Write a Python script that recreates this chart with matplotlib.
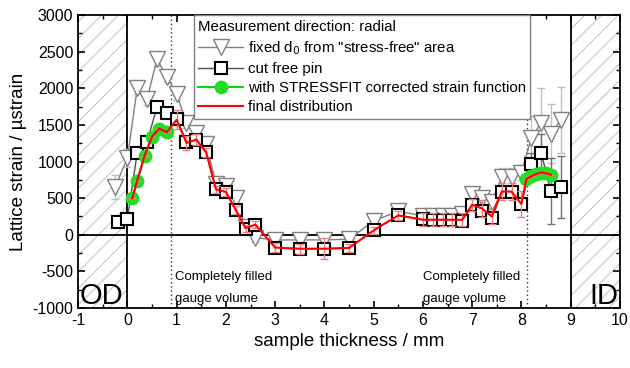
import matplotlib.pyplot as plt
from matplotlib.ticker import MultipleLocator

plt.rcParams['font.family'] = ['Liberation Sans', 'DejaVu Sans']
plt.rcParams['axes.unicode_minus'] = False
plt.rcParams['hatch.linewidth'] = 0.8

# fixed d0 from "stress-free" area
x_fixed = [-0.25, 0, 0.2, 0.4, 0.6, 0.8, 1.0, 1.2, 1.4, 1.6, 1.8, 2.0, 2.2, 2.4, 2.6,
           3.0, 3.5, 4.0, 4.5, 5.0, 5.5, 6.0, 6.2, 6.4, 6.6, 6.8, 7.0, 7.2, 7.4,
           7.6, 7.8, 8.0, 8.2, 8.4, 8.6, 8.8]
y_fixed = [650, 1050, 2000, 1850, 2400, 2160, 1920, 1530, 1390, 1240, 700, 670, 500, 110, -40,
           -70, -70, -70, -60, 190, 320, 260, 250, 250, 260, 290, 560, 500, 450,
           790, 790, 850, 1320, 1530, 1380, 1570]
e_fixed = [160, 120, 80, 80, 90, 80, 80, 70, 60, 60, 60, 60, 60, 60, 60,
           60, 60, 60, 60, 60, 60, 60, 60, 60, 60, 60, 80, 80, 80,
           120, 120, 100, 300, 480, 400, 450]

# cut free pin
x_pin = [-0.2, 0, 0.2, 0.4, 0.6, 0.8, 1.0, 1.2, 1.4, 1.6, 1.8, 2.0, 2.2, 2.4, 2.6,
         3.0, 3.5, 4.0, 4.5, 5.0, 5.5, 6.0, 6.2, 6.4, 6.6, 6.8, 7.0, 7.2, 7.4,
         7.6, 7.8, 8.0, 8.2, 8.4, 8.6, 8.8]
y_pin = [180, 215, 1120, 1270, 1740, 1660, 1580, 1265, 1300, 1130, 620, 590, 340, 85, 140,
         -180, -195, -190, -180, 60, 265, 210, 205, 205, 205, 190, 410, 320, 235,
         580, 590, 415, 965, 1120, 595, 650]
e_pin = [0] * 32 + [150, 250, 450, 420]

# with STRESSFIT corrected strain function
x_corr = [0.1, 0.2, 0.35, 0.5, 0.65, 0.8, 8.1, 8.2, 8.3, 8.4, 8.5, 8.6]
y_corr = [500, 740, 1080, 1340, 1450, 1400, 760, 800, 830, 850, 840, 815]

# final distribution
x_final = [0.1, 0.2, 0.35, 0.5, 0.65, 0.8, 1.0, 1.2, 1.4, 1.6, 1.8, 2.0, 2.2, 2.4, 2.6,
           3.0, 3.5, 4.0, 4.5, 5.0, 5.5, 6.0, 6.2, 6.4, 6.6, 6.8, 7.0, 7.2, 7.4,
           7.6, 7.8, 8.0, 8.1, 8.2, 8.3, 8.4, 8.5, 8.6]
y_final = [500, 740, 1080, 1340, 1450, 1400, 1570, 1255, 1300, 1125, 620, 585, 340, 90, 140,
           -175, -190, -190, -180, 60, 265, 205, 205, 205, 205, 205, 410, 360, 250,
           590, 590, 420, 760, 800, 830, 850, 840, 820]
e_final = [0, 0, 0, 0, 0, 0, 130, 100, 80, 60, 50, 50, 50, 50, 50,
           60, 70, 145, 60, 50, 60, 90, 90, 90, 90, 90, 80, 120, 100,
           120, 120, 180, 0, 0, 0, 0, 0, 0]

fig = plt.figure(figsize=(6.3, 3.68), dpi=100)
ax = fig.add_axes([0.124, 0.163, 0.86, 0.796])

# hatched areas outside the sample
ax.axvspan(-1, 0, facecolor='none', edgecolor='#c8c8c8', hatch='//', linewidth=0)
ax.axvspan(9, 10, facecolor='none', edgecolor='#c8c8c8', hatch='//', linewidth=0)
ax.axvline(0, color='black', lw=1.3)
ax.axvline(9, color='black', lw=1.3)
ax.axhline(0, color='black', lw=1.3)
ax.axvline(0.88, color='#333333', lw=1, ls=(0, (1, 2)))
ax.axvline(8.12, color='#333333', lw=1, ls=(0, (1, 2)))

ax.errorbar(x_fixed, y_fixed, yerr=e_fixed, fmt='none', ecolor='#c0c0c0', elinewidth=1, capsize=3, zorder=2)
ax.plot(x_fixed, y_fixed, color='#808080', lw=1, marker='v', ms=11, mfc='white', mec='#808080',
        mew=1, label='fixed d$_0$ from "stress-free" area', zorder=3)

ax.errorbar(x_pin, y_pin, yerr=e_pin, fmt='none', ecolor='#707070', elinewidth=1, capsize=3, zorder=2)
ax.plot(x_pin, y_pin, color='#505050', lw=1, marker='s', ms=8, mfc='white', mec='black',
        mew=1.5, label='cut free pin', zorder=4)

ax.plot(x_corr[:6], y_corr[:6], color='#00dd00', lw=1.5, marker='o', ms=9, mfc='#22dd22', mec='#22dd22', zorder=5)
ax.plot(x_corr[6:], y_corr[6:], color='#00dd00', lw=1.5, marker='o', ms=9, mfc='#22dd22', mec='#22dd22',
        label='with STRESSFIT corrected strain function', zorder=5)

ax.errorbar(x_final, y_final, yerr=e_final, fmt='none', ecolor='#f08080', elinewidth=1, capsize=3, zorder=5)
ax.plot(x_final, y_final, color='red', lw=1.5, label='final distribution', zorder=6)

ax.text(-0.97, -830, 'OD', fontsize=21, va='center', ha='left')
ax.text(9.97, -830, 'ID', fontsize=21, va='center', ha='right')
for xt in (0.97, 6.0):
    ax.text(xt, -580, 'Completely filled', fontsize=9.5, va='center')
    ax.text(xt, -880, 'gauge volume', fontsize=9.5, va='center')

ax.set_xlim(-1, 10)
ax.set_ylim(-1000, 3000)
ax.xaxis.set_major_locator(MultipleLocator(1))
ax.xaxis.set_minor_locator(MultipleLocator(0.5))
ax.yaxis.set_major_locator(MultipleLocator(500))
ax.yaxis.set_minor_locator(MultipleLocator(250))
ax.tick_params(which='both', direction='in', top=True, right=True, labelsize=11.5)
ax.tick_params(which='major', length=5, width=1.2)
ax.tick_params(which='minor', length=3, width=1)
for s in ax.spines.values():
    s.set_linewidth(1.3)

ax.set_xlabel('sample thickness / mm', fontsize=13.5)
ax.set_ylabel('Lattice strain / µstrain', fontsize=13.5)

leg = ax.legend(loc='upper left', bbox_to_anchor=(0.213, 1.0), title='Measurement direction: radial',
                fontsize=10.8, title_fontsize=10.8, fancybox=False, edgecolor='#808080', framealpha=1,
                borderpad=0.3, labelspacing=0.35, handlelength=3, handletextpad=0.3, borderaxespad=0)
leg._legend_box.align = 'left'
leg.get_frame().set_linewidth(1)

fig.savefig('out.png', dpi=100)
